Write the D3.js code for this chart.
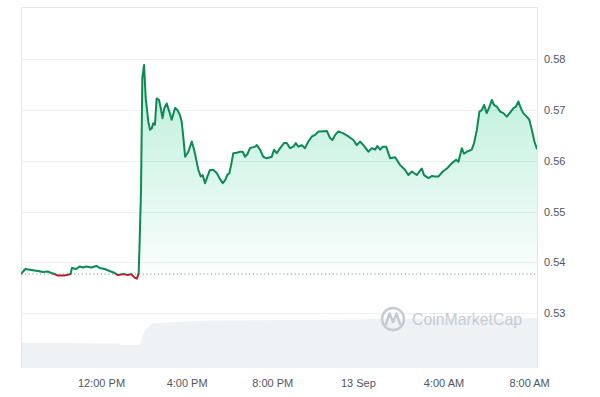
<!DOCTYPE html>
<html>
<head>
<meta charset="utf-8">
<script src="https://cdn.jsdelivr.net/npm/d3@7"></script>
<style>
  html, body { margin: 0; padding: 0; background: #fff; }
  svg { display: block; font-family: "Liberation Sans", Arial, sans-serif; }
</style>
</head>
<body>
<div id="chart"></div>
<script>
// Price, hours since 12 Sep 00:00
const priceHours = [
  8.26, 8.46, 8.74, 9.05, 9.29, 9.52, 9.68, 9.83, 9.99, 10.30, 10.58, 10.64, 10.84, 11.00, 11.16, 11.31,
  11.55, 11.78, 11.94, 12.17, 12.40, 12.64, 12.79, 13.03, 13.26, 13.41, 13.57, 13.68, 13.76, 13.80, 13.87,
  13.93, 14.01, 14.09, 14.21, 14.29, 14.37, 14.44, 14.52, 14.60, 14.71, 14.79, 14.87, 14.96, 15.07, 15.19,
  15.30, 15.46, 15.57, 15.69, 15.77, 15.85, 15.93, 16.08, 16.24, 16.35, 16.47, 16.55, 16.66, 16.75, 16.86,
  16.97, 17.09, 17.25, 17.41, 17.56, 17.69, 17.80, 17.90, 18.00, 18.08, 18.18, 18.34, 18.50, 18.62, 18.73,
  18.84, 18.96, 19.20, 19.28, 19.43, 19.58, 19.74, 19.98, 20.08, 20.21, 20.37, 20.55, 20.68, 20.83, 20.99,
  21.10, 21.22, 21.38, 21.53, 21.69, 21.85, 22.00, 22.16, 22.23, 22.55, 22.70, 22.81, 22.94, 23.09, 23.32,
  23.56, 23.79, 23.95, 24.10, 24.26, 24.49, 24.65, 24.80, 24.91, 25.04, 25.16, 25.32, 25.51, 25.74, 25.97,
  26.21, 26.36, 26.52, 26.75, 26.99, 27.09, 27.30, 27.45, 27.61, 27.76, 27.97, 28.16, 28.39, 28.59, 28.70,
  28.86, 28.96, 29.09, 29.32, 29.43, 29.56, 29.68, 29.79, 29.90, 30.02, 30.15, 30.26, 30.36, 30.49, 30.65,
  30.80, 30.96, 31.15, 31.27, 31.39, 31.50, 31.61, 31.73, 31.89, 32.01, 32.13, 32.25, 32.37
]
const priceValues = [
  0.5377, 0.5387, 0.5385, 0.5383, 0.5381, 0.5382, 0.5379, 0.5377, 0.5374, 0.5374, 0.5377, 0.5389, 0.5387, 0.5392, 0.5390, 0.5392,
  0.5390, 0.5393, 0.5389, 0.5387, 0.5383, 0.5379, 0.5375, 0.5377, 0.5375, 0.5377, 0.5370, 0.5368, 0.5379, 0.5434, 0.5543,
  0.5763, 0.5789, 0.5723, 0.5677, 0.5661, 0.5664, 0.5674, 0.5671, 0.5723, 0.5720, 0.5704, 0.5684, 0.5704, 0.5713, 0.5697,
  0.5681, 0.5704, 0.5700, 0.5690, 0.5677, 0.5645, 0.5608, 0.5618, 0.5638, 0.5622, 0.5598, 0.5582, 0.5569, 0.5572, 0.5556,
  0.5569, 0.5582, 0.5582, 0.5576, 0.5564, 0.5556, 0.5562, 0.5572, 0.5576, 0.5592, 0.5615, 0.5616, 0.5618, 0.5618, 0.5608,
  0.5613, 0.5625, 0.5628, 0.5631, 0.5622, 0.5608, 0.5605, 0.5608, 0.5622, 0.5615, 0.5625, 0.5635, 0.5635, 0.5625, 0.5628,
  0.5635, 0.5628, 0.5631, 0.5625, 0.5638, 0.5648, 0.5651, 0.5658, 0.5658, 0.5659, 0.5645, 0.5641, 0.5651, 0.5658, 0.5654,
  0.5648, 0.5641, 0.5631, 0.5638, 0.5631, 0.5618, 0.5625, 0.5622, 0.5629, 0.5622, 0.5628, 0.5628, 0.5605, 0.5607, 0.5592,
  0.5582, 0.5572, 0.5579, 0.5572, 0.5585, 0.5572, 0.5566, 0.5570, 0.5569, 0.5569, 0.5579, 0.5585, 0.5595, 0.5602, 0.5598,
  0.5625, 0.5614, 0.5618, 0.5622, 0.5635, 0.5661, 0.5697, 0.5700, 0.5710, 0.5694, 0.5707, 0.5720, 0.5710, 0.5707, 0.5697,
  0.5694, 0.5687, 0.5697, 0.5704, 0.5707, 0.5717, 0.5704, 0.5694, 0.5687, 0.5681, 0.5661, 0.5638, 0.5623
]

// 24h volume (relative units)
const volumeHours = [8.26, 10.08, 12.79, 12.89, 13.82, 13.96, 14.15, 14.43, 15.69, 17.09, 21.30, 25.04, 32.37]
const volumeValues = [50, 50, 49, 46, 46, 66, 80, 90, 92, 95, 96, 98, 100]

const baselinePrice = 0.5377
const yTicks = [0.53, 0.54, 0.55, 0.56, 0.57, 0.58]
const xTickHours = [12, 16, 20, 24, 28, 32]
const xTickLabels = ["12:00 PM", "4:00 PM", "8:00 PM", "13 Sep", "4:00 AM", "8:00 AM"]

const width = 600
const height = 397
const plot = { left: 21, right: 537, top: 7, bottom: 368 }

const svg = d3.select("#chart").append("svg")
  .attr("width", width)
  .attr("height", height)

const x = d3.scaleLinear().domain([8.262, 32.37]).range([plot.left, plot.right])
const y = d3.scaleLinear().domain([0.5192, 0.5903]).range([plot.bottom, plot.top])
const yVol = d3.scaleLinear().domain([0, 100]).range([plot.bottom, 318])

const prices = priceHours.map((h, i) => ({ h, p: priceValues[i] }))
const volumes = volumeHours.map((h, i) => ({ h, v: volumeValues[i] }))
const baseY = y(baselinePrice)

const defs = svg.append("defs")
const grad = defs.append("linearGradient")
  .attr("id", "upFill")
  .attr("gradientUnits", "userSpaceOnUse")
  .attr("x1", 0).attr("x2", 0)
  .attr("y1", y(d3.max(priceValues))).attr("y2", baseY)
grad.append("stop").attr("offset", 0).attr("stop-color", "#16c784").attr("stop-opacity", 0.3)
grad.append("stop").attr("offset", 1).attr("stop-color", "#16c784").attr("stop-opacity", 0.02)

defs.append("clipPath").attr("id", "above")
  .append("rect").attr("x", plot.left).attr("y", plot.top)
  .attr("width", plot.right - plot.left).attr("height", baseY - plot.top)
defs.append("clipPath").attr("id", "below")
  .append("rect").attr("x", plot.left).attr("y", baseY)
  .attr("width", plot.right - plot.left).attr("height", plot.bottom - baseY)

// volume
svg.append("path")
  .datum(volumes)
  .attr("fill", "#eff2f5")
  .attr("d", d3.area().x(d => x(d.h)).y0(plot.bottom).y1(d => yVol(d.v)))

// grid
svg.append("g").selectAll("line")
  .data(yTicks)
  .join("line")
  .attr("x1", plot.left).attr("x2", plot.right)
  .attr("y1", d => Math.round(y(d)) + 0.5).attr("y2", d => Math.round(y(d)) + 0.5)
  .attr("stroke", "#eceff3")

// frame
svg.append("path")
  .attr("d", `M${plot.left + 0.5},${plot.bottom}V${plot.top + 0.5}H${plot.right + 0.5}V${plot.bottom}`)
  .attr("fill", "none")
  .attr("stroke", "#e3e6ea")

// watermark
const wm = svg.append("g").attr("fill", "none").attr("stroke", "#c6cbd2")
wm.append("circle").attr("cx", 393).attr("cy", 319).attr("r", 11).attr("stroke-width", 2.4)
wm.append("path")
  .attr("d", "M386,324 L389.5,313.5 L393,322 L396.5,313.5 L400,324")
  .attr("stroke-width", 2.4).attr("stroke-linejoin", "round").attr("stroke-linecap", "round")
svg.append("text")
  .attr("x", 412).attr("y", 325)
  .attr("textLength", 110).attr("lengthAdjust", "spacingAndGlyphs")
  .style("font-size", "17px")
  .style("fill", "#c6cbd2")
  .text("CoinMarketCap")

// price area + line
const area = d3.area().x(d => x(d.h)).y0(baseY).y1(d => y(d.p))
const line = d3.line().x(d => x(d.h)).y(d => y(d.p))

svg.append("path").datum(prices)
  .attr("clip-path", "url(#above)")
  .attr("fill", "url(#upFill)")
  .attr("d", area)

svg.append("line")
  .attr("x1", plot.left).attr("x2", plot.right)
  .attr("y1", baseY).attr("y2", baseY)
  .attr("stroke", "#8a8f98")
  .attr("stroke-width", 1)
  .attr("stroke-dasharray", "1.2,2.6")

svg.append("path").datum(prices)
  .attr("clip-path", "url(#above)")
  .attr("fill", "none")
  .attr("stroke", "#0b8a56")
  .attr("stroke-width", 2)
  .attr("stroke-linejoin", "round")
  .attr("d", line)

svg.append("path").datum(prices)
  .attr("clip-path", "url(#below)")
  .attr("fill", "none")
  .attr("stroke", "#b3202b")
  .attr("stroke-width", 2)
  .attr("stroke-linejoin", "round")
  .attr("d", line)

// axes
const yAxis = svg.append("g")
  .attr("transform", `translate(${plot.right},0)`)
  .call(d3.axisRight(y).tickValues(yTicks).tickSize(0).tickPadding(7).tickFormat(d3.format(".2f")))
yAxis.select(".domain").remove()

const xAxis = svg.append("g")
  .attr("transform", `translate(0,${plot.bottom})`)
  .call(d3.axisBottom(x).tickValues(xTickHours).tickSize(0).tickPadding(11)
    .tickFormat((d, i) => xTickLabels[i]))
xAxis.select(".domain").remove()

svg.selectAll(".tick text")
  .style("font-size", "11px")
  .style("font-family", "'Liberation Sans', Arial, sans-serif")
  .style("fill", "#50565f")
</script>
</body>
</html>
